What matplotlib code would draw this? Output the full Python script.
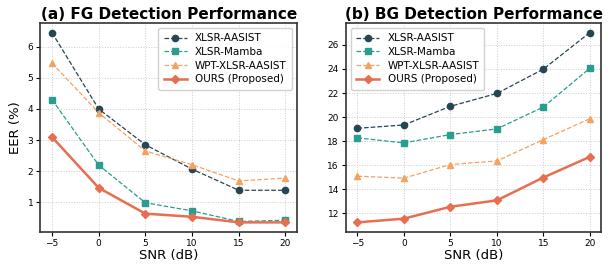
import numpy as np
import matplotlib
matplotlib.use("Agg")
from matplotlib import pyplot as plt

snr = [-5, 0, 5, 10, 15, 20]
series_names = ["XLSR-AASIST", "XLSR-Mamba", "WPT-XLSR-AASIST", "OURS (Proposed)"]

# EER (%)
fg_aasist = [6.45, 4.00, 2.85, 2.07, 1.39, 1.39]
fg_mamba = [4.30, 2.20, 0.99, 0.73, 0.39, 0.43]
fg_wpt = [5.47, 3.88, 2.65, 2.21, 1.69, 1.78]
fg_ours = [3.10, 1.47, 0.64, 0.54, 0.36, 0.36]

bg_aasist = [19.07, 19.35, 20.90, 21.97, 23.99, 27.03]
bg_mamba = [18.27, 17.86, 18.55, 19.02, 20.84, 24.07]
bg_wpt = [15.09, 14.93, 16.06, 16.36, 18.13, 19.87]
bg_ours = [11.25, 11.56, 12.55, 13.08, 14.98, 16.70]

colors = ["#264653", "#2a9d8f", "#f4a261", "#e76f51"]
markers = ["o", "s", "^", "D"]


def draw(ax, values, title, ylabel=None, legend_loc="upper right"):
    for i, (name, vals) in enumerate(zip(series_names, values)):
        if i == 3:
            ax.plot(snr, vals, color=colors[i], marker=markers[i], markersize=4.5,
                    linewidth=1.8, linestyle="-", label=name, zorder=4)
        else:
            ax.plot(snr, vals, color=colors[i], marker=markers[i], markersize=4.5,
                    linewidth=0.9, linestyle="--", label=name, zorder=3)
    ax.set_title(title, fontsize=11, fontweight="bold", pad=3)
    ax.set_xlabel("SNR (dB)", fontsize=9.5, labelpad=1)
    if ylabel:
        ax.set_ylabel(ylabel, fontsize=9.5, labelpad=4)
    ax.set_xticks(snr)
    ax.tick_params(labelsize=6.5, length=3, pad=2)
    ax.grid(True, linestyle=":", linewidth=0.7, color="#cccccc")
    for sp in ax.spines.values():
        sp.set_linewidth(1.2)
        sp.set_color("#333333")
    ax.legend(loc=legend_loc, fontsize=7.5, frameon=True, framealpha=0.9,
              borderpad=0.5, handlelength=2.2, labelspacing=0.35)


fig = plt.figure(figsize=(6.1, 2.65), dpi=100)
ax1 = fig.add_axes([0.066, 0.125, 0.421, 0.788])
ax2 = fig.add_axes([0.567, 0.125, 0.419, 0.788])

draw(ax1, [fg_aasist, fg_mamba, fg_wpt, fg_ours], "(a) FG Detection Performance",
     ylabel="EER (%)", legend_loc="upper right")
ax1.set_yticks([1, 2, 3, 4, 5, 6])
draw(ax2, [bg_aasist, bg_mamba, bg_wpt, bg_ours], "(b) BG Detection Performance",
     legend_loc="upper left")
ax2.set_yticks([12, 14, 16, 18, 20, 22, 24, 26])

fig.savefig("out.png", dpi=100)
